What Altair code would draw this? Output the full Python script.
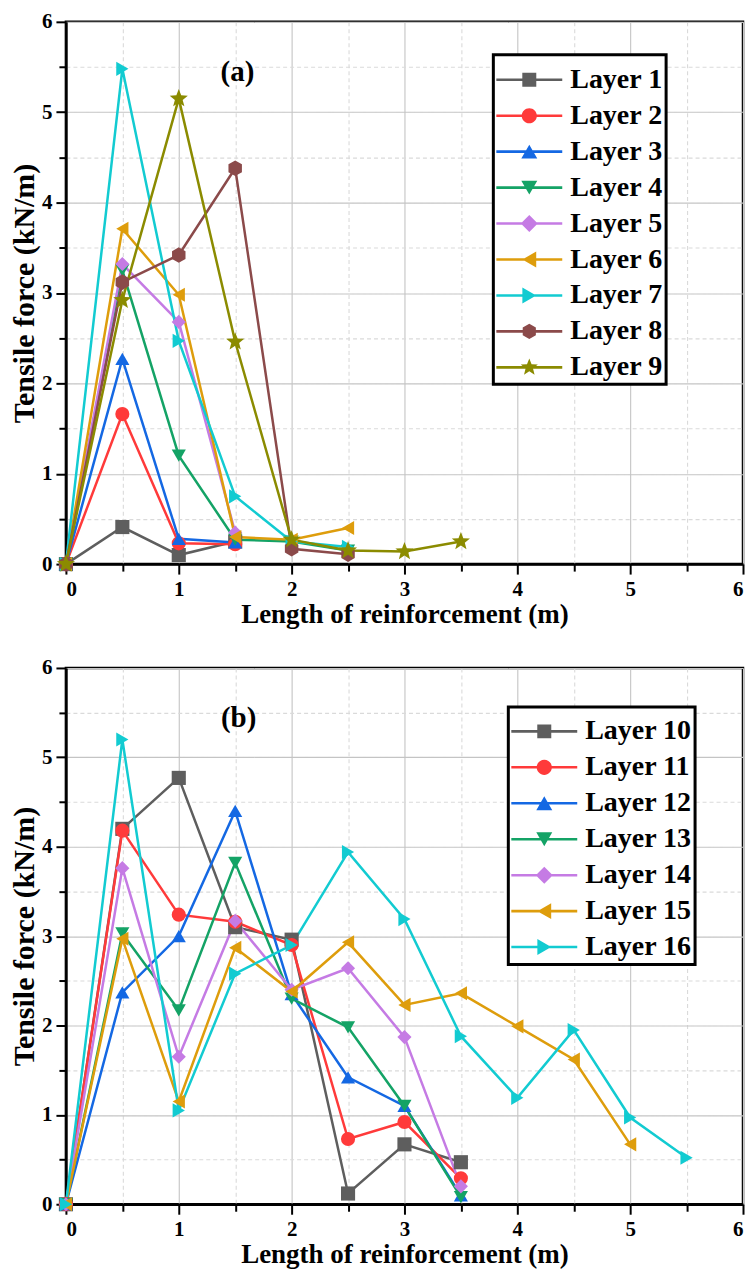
import math
import altair as alt
import pandas as pd

# ---------------- data ----------------
x_positions = [0, 0.5, 1, 1.5, 2, 2.5, 3, 3.5, 4, 4.5, 5, 5.5]

names_a = ["Layer 1", "Layer 2", "Layer 3", "Layer 4", "Layer 5",
           "Layer 6", "Layer 7", "Layer 8", "Layer 9"]
layer1 = [0, 0.41, 0.10, 0.25]
layer2 = [0, 1.66, 0.23, 0.22]
layer3 = [0, 2.27, 0.28, 0.24]
layer4 = [0, 3.25, 1.20, 0.27, 0.25, 0.15]
layer5 = [0, 3.32, 2.68, 0.35]
layer6 = [0, 3.71, 2.98, 0.30, 0.27, 0.40]
layer7 = [0, 5.48, 2.47, 0.75, 0.25, 0.19]
layer8 = [0, 3.12, 3.42, 4.38, 0.17, 0.11]
layer9 = [0, 2.92, 5.15, 2.46, 0.27, 0.15, 0.14, 0.25]
values_a = [layer1, layer2, layer3, layer4, layer5, layer6, layer7, layer8, layer9]

names_b = ["Layer 10", "Layer 11", "Layer 12", "Layer 13", "Layer 14",
           "Layer 15", "Layer 16"]
layer10 = [0, 4.20, 4.77, 3.10, 2.96, 0.12, 0.67, 0.47]
layer11 = [0, 4.18, 3.24, 3.16, 2.90, 0.73, 0.92, 0.29]
layer12 = [0, 2.37, 3.00, 4.40, 2.35, 1.42, 1.10, 0.10]
layer13 = [0, 3.03, 2.17, 3.82, 2.30, 1.98, 1.10, 0.08]
layer14 = [0, 3.76, 1.65, 3.17, 2.40, 2.64, 1.87, 0.20]
layer15 = [0, 2.97, 1.15, 2.87, 2.38, 2.93, 2.23, 2.36, 1.99, 1.62, 0.67]
layer16 = [0, 5.20, 1.05, 2.58, 2.90, 3.94, 3.19, 1.88, 1.19, 1.95, 0.97, 0.52]
values_b = [layer10, layer11, layer12, layer13, layer14, layer15, layer16]

colors_a = ["#5E5E5E", "#FF3A3A", "#1468E3", "#14A366", "#C57BE4",
            "#DE9D0C", "#12CBD1", "#8B4A4A", "#8B8B00"]
colors_b = colors_a[:7]

x_ticks = [0, 0.5, 1, 1.5, 2, 2.5, 3, 3.5, 4, 4.5, 5, 5.5, 6]
y_ticks = [0, 0.5, 1, 1.5, 2, 2.5, 3, 3.5, 4, 4.5, 5, 5.5, 6]

x_title = "Length of reinforcement (m)"
y_title = "Tensile force (kN/m)"
panel_labels = ["(a)", "(b)"]
label_pos_a = (1.52, 5.45)
label_pos_b = (1.53, 5.44)

FONT = "Liberation Serif"

# ---------------- marker shapes ----------------
def poly_path(points):
    return "M" + "L".join(f"{x:.3f},{y:.3f}" for x, y in points) + "Z"

def hexagon_pts(r):
    return [(r * math.cos(math.radians(-90 + 60 * k)), r * math.sin(math.radians(-90 + 60 * k))) for k in range(6)]

def star_pts(ro, ri):
    pts = []
    for k in range(10):
        r = ro if k % 2 == 0 else ri
        ang = math.radians(-90 + 36 * k)
        pts.append((r * math.cos(ang), r * math.sin(ang)))
    return pts

HEX_PATH = poly_path(hexagon_pts(1.1))
STAR_PATH = poly_path(star_pts(1.35, 0.58))
plot_shapes_a = ["square", "circle", "triangle-up", "triangle-down", "diamond",
                 "triangle-left", "triangle-right", HEX_PATH, STAR_PATH]
plot_shapes_b = plot_shapes_a[:7]


def legend_paths(half_px, line_half_px=33.0):
    """Line segment plus centred marker; unit box maps to +-half_px pixels."""
    u = 1.0 / half_px
    L = line_half_px * u
    lt = 1.3 * u
    line = f"M{-L:.3f},{-lt:.3f}H{L:.3f}V{lt:.3f}H{-L:.3f}Z"
    a = 7.0 * u
    rc = 7.6 * u
    ta = 8.0 * u
    th = ta * math.sqrt(3) / 2
    da = 8.5 * u
    markers = [
        f"M{-a:.3f},{-a:.3f}H{a:.3f}V{a:.3f}H{-a:.3f}Z",
        f"M{-rc:.3f},0A{rc:.3f},{rc:.3f} 0 1 1 {rc:.3f},0A{rc:.3f},{rc:.3f} 0 1 1 {-rc:.3f},0Z",
        poly_path([(0, -th), (ta, th), (-ta, th)]),
        poly_path([(0, th), (-ta, -th), (ta, -th)]),
        poly_path([(-da, 0), (0, -da), (da, 0), (0, da)]),
        poly_path([(-th, 0), (th, -ta), (th, ta)]),
        poly_path([(th, 0), (-th, ta), (-th, -ta)]),
        poly_path(hexagon_pts(7.6 * u)),
        poly_path(star_pts(9.0 * u, 3.9 * u)),
    ]
    return [line + " " + m for m in markers]


# ---------------- axes ----------------
minor = "datum.value % 1 !== 0"
common_axis = dict(
    labelExpr="datum.value % 1 === 0 ? format(datum.value, 'd') : ''",
    grid=True,
    gridDash={"condition": {"test": minor, "value": [4, 3]}, "value": [1, 0]},
    gridColor={"condition": {"test": minor, "value": "#dadada"}, "value": "#c4c4c4"},
    tickSize={"condition": {"test": minor, "value": 7}, "value": 10},
)
x_axis = alt.Axis(values=x_ticks, title=x_title, labelPadding=4, titlePadding=2, **common_axis)
y_axis = alt.Axis(values=y_ticks, title=y_title, labelPadding=4, titlePadding=2, **common_axis)

W = 678


def panel(names, values, colors, pshapes, height, leg_x, leg_y, leg_half, label, label_pos):
    rows = []
    for n, vals in zip(names, values):
        for xv, yv in zip(x_positions, vals):
            rows.append({"series": n, "x": xv, "y": yv})
    df = pd.DataFrame(rows)

    X = alt.X("x:Q", scale=alt.Scale(domain=[0, 6], nice=False, zero=True), axis=x_axis)
    Y = alt.Y("y:Q", scale=alt.Scale(domain=[0, 6], nice=False, zero=True), axis=y_axis)
    cscale = alt.Scale(domain=names, range=colors)

    base = alt.Chart(df)
    lines = base.mark_line(strokeWidth=2.5).encode(
        x=X, y=Y, color=alt.Color("series:N", scale=cscale, legend=None)
    )
    points = base.mark_point(filled=True, opacity=1, size=200, strokeWidth=0).encode(
        x=X, y=Y,
        color=alt.Color("series:N", scale=cscale, legend=None),
        shape=alt.Shape("series:N", scale=alt.Scale(domain=names, range=pshapes), legend=None),
    )
    size = (2 * leg_half) ** 2
    sym_off = 33 - leg_half
    leg = alt.Legend(
        orient="none", legendX=leg_x, legendY=leg_y, title=None,
        labelFont=FONT, labelFontWeight="bold", labelFontSize=28, labelColor="black",
        symbolSize=size, symbolStrokeWidth=0, symbolOpacity=1, symbolOffset=sym_off,
        padding=3, rowPadding=0, labelOffset=8 + (66 - 2 * leg_half) - sym_off, labelLimit=400,
        strokeColor="black", fillColor="white", cornerRadius=0,
    )
    legend_layer = base.mark_point(filled=True, opacity=1, size=size, strokeWidth=0).encode(
        color=alt.Color("series:N", scale=alt.Scale(domain=names, range=colors), legend=leg),
        shape=alt.Shape("series:N", scale=alt.Scale(domain=names,
                        range=legend_paths(leg_half)[:len(names)]), legend=leg),
    ).transform_filter("false")

    lab_df = pd.DataFrame({"x": [label_pos[0]], "y": [label_pos[1]], "t": [label]})
    text = alt.Chart(lab_df).mark_text(
        font=FONT, fontWeight="bold", fontSize=29, color="black"
    ).encode(x=X, y=Y, text="t:N")

    return alt.layer(lines, points, text, legend_layer).resolve_scale(
        color="independent", shape="independent"
    ).properties(width=W, height=height)


pa = panel(names_a, values_a, colors_a, plot_shapes_a, 543, 428, 33, 22, panel_labels[0], label_pos_a)
pb = panel(names_b, values_b, colors_b, plot_shapes_b, 537, 443, 39, 21.5, panel_labels[1], label_pos_b)

chart = alt.vconcat(pa, pb, spacing=104, bounds="flush").configure_view(
    stroke="black", strokeWidth=2.5
).configure_axis(
    domainColor="black", domainWidth=2.5, tickColor="black", tickWidth=2,
    labelFont=FONT, labelFontWeight="bold", labelFontSize=21, labelColor="black",
    titleFont=FONT, titleFontWeight="bold", titleColor="black", gridWidth=1.1,
).configure_axisX(titleFontSize=27).configure_axisY(titleFontSize=30).configure_legend(
    strokeWidth=3
).properties(padding={"left": 0, "top": 0, "right": 0, "bottom": 0}, background="white")

chart.save("out.html", embed_options={"renderer": "svg", "actions": False})
